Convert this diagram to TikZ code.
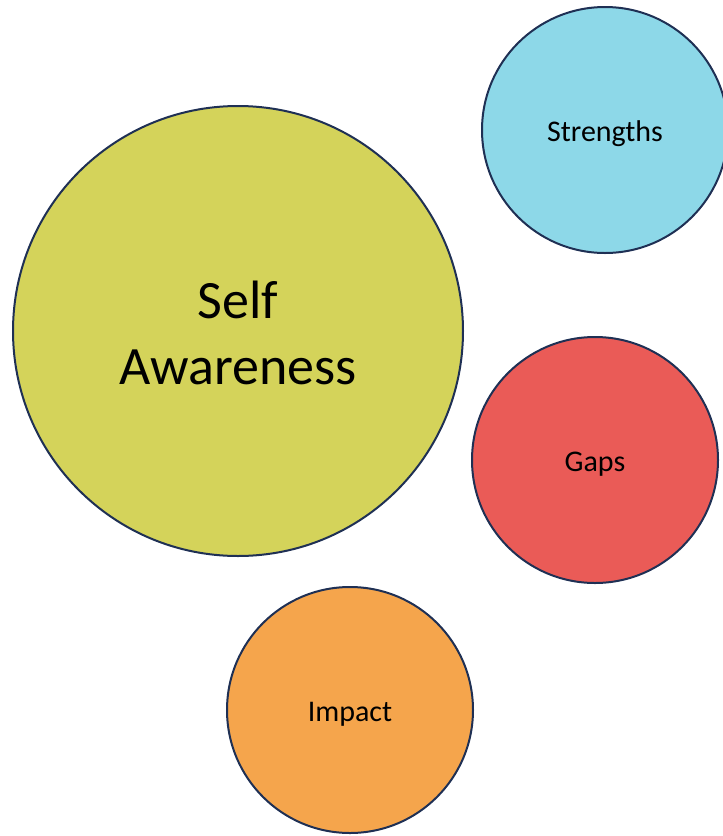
\documentclass[tikz,border=0pt]{standalone}
\usepackage{fontspec}
\setmainfont{Carlito}
\definecolor{edgecol}{RGB}{31,48,84}
\definecolor{awarecol}{RGB}{212,211,90}
\definecolor{strengthcol}{RGB}{141,216,232}
\definecolor{gapcol}{RGB}{234,91,87}
\definecolor{impactcol}{RGB}{245,165,76}

\begin{document}
\begin{tikzpicture}[x=1pt,y=-1pt,
    bubble/.style={circle,draw=edgecol,line width=2pt,inner sep=0pt},
    small/.style={bubble,minimum size=246pt},
    smalltext/.style={font=\fontsize{30}{36}\selectfont,yshift=-4pt}]
      \useasboundingbox(0,0)rectangle(723,836);
      \node[bubble,fill=awarecol,minimum size=450pt](aware)at(238,331){};
      \node[align=center,font=\fontsize{54}{66}\selectfont,yshift=-2pt](awaretext)at(aware){Self\\Awareness};
      \node[small,fill=strengthcol](strengths)at(605,130){};
      \node[smalltext](strengthstext)at(strengths){Strengths};
      \node[small,fill=gapcol](gaps)at(595,460){};
      \node[smalltext](gapstext)at(gaps){Gaps};
      \node[small,fill=impactcol](impact)at(350,710){};
      \node[smalltext](impacttext)at(impact){Impact};
    \end{tikzpicture}
\end{document}
